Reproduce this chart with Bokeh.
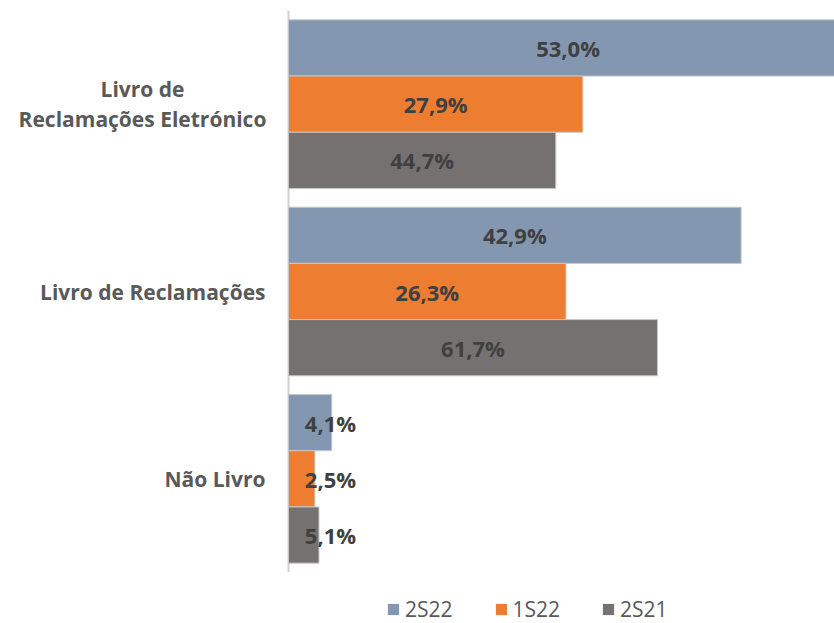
from bokeh.plotting import figure
from bokeh.layouts import column
from bokeh.models import Range1d, FactorRange, ColumnDataSource, Legend, LegendItem, Span
from bokeh.transform import dodge
from bokeh.core.properties import value
from bokeh.embed import file_html
from bokeh.resources import INLINE

categories = ["Livro de\nReclamações Eletrónico", "Livro de Reclamações", "Não Livro"]
series_names = ["2S22", "1S22", "2S21"]
values_2S22 = [53.0, 42.9, 4.1]
values_1S22 = [27.9, 26.3, 2.5]
values_2S21 = [44.7, 61.7, 5.1]
colors = ["#8497B0", "#ED7D31", "#767171"]

W = 834
AXIS_PX = 288                 # screen position of the value axis (x = 0)
PRIMARY_END = 51.75           # primary scale (2S22, 1S22)
SECONDARY_END = 91.3          # secondary scale (2S21)
ppu1 = (W - AXIS_PX) / PRIMARY_END
ppu2 = (W - AXIS_PX) / SECONDARY_END

p = figure(width=W, height=572, output_backend="svg", toolbar_location=None,
           y_range=FactorRange(*categories[::-1]),
           x_range=Range1d(-AXIS_PX / ppu1, PRIMARY_END),
           x_axis_location=None, y_axis_location=None,
           min_border_left=0, min_border_right=0,
           min_border_top=10, min_border_bottom=0)
p.extra_x_ranges = {"sec": Range1d(-AXIS_PX / ppu2, SECONDARY_END)}
p.outline_line_color = None
p.xgrid.visible = False
p.ygrid.visible = False
p.y_range.range_padding = 0

# value axis line
p.add_layout(Span(location=0, dimension="height", line_color="#D0D0D0",
                  line_width=2, level="underlay"))

series = [values_2S22, values_1S22, values_2S21]
offsets = [0.3, 0.0, -0.3]
ranges = ["default", "default", "sec"]
ppus = [ppu1, ppu1, ppu2]
for vals, off, col, rn, ppu in zip(series, offsets, colors, ranges, ppus):
    lbl_x = [max(v / 2, 42 / ppu) for v in vals]
    src = ColumnDataSource(dict(cat=categories, v=vals, lx=lbl_x,
                                txt=[f"{v:.1f}".replace(".", ",") + "%" for v in vals]))
    p.hbar(y=dodge("cat", off, range=p.y_range), right="v", left=0, height=0.3,
           source=src, fill_color=col, line_color="#C8C8C8", line_width=1,
           x_range_name=rn)
    p.text(x="lx", y=dodge("cat", off, range=p.y_range), text="txt", source=src,
           x_range_name=rn, text_align="center", text_baseline="middle",
           text_font=value("Open Sans"), text_font_style="bold",
           text_font_size="22px", text_color="#404040")

# category labels (right-aligned block; wrapped label lines centred)
cat_style = dict(text_baseline="middle", text_font=value("Open Sans"),
                 text_font_style="bold", text_font_size="21px",
                 text_color="#595959", text_line_height=1.05)
p.text(x=[(142 - AXIS_PX) / ppu1], y=[categories[0]], text=[categories[0]],
       text_align="center", **cat_style)
p.text(x=[(265 - AXIS_PX) / ppu1] * 2, y=categories[1:], text=categories[1:],
       text_align="right", **cat_style)

# legend strip below the chart
lf = figure(width=W, height=51, output_backend="svg", toolbar_location=None,
            x_range=Range1d(0, 1), y_range=Range1d(0, 1),
            x_axis_location=None, y_axis_location=None,
            min_border_left=0, min_border_right=0, min_border_top=0, min_border_bottom=0)
lf.outline_line_color = None
lf.xgrid.visible = False
lf.ygrid.visible = False
items = []
for n, col in zip(series_names, colors):
    r = lf.hbar(y=[0], right=[0], left=[0], height=0.01, fill_color=col, line_color=None)
    items.append(LegendItem(label=n, renderers=[r]))
legend = Legend(items=items, orientation="horizontal", location=(386, 0),
                border_line_color=None, background_fill_alpha=0,
                padding=0, margin=0, spacing=41, label_standoff=5,
                glyph_width=14, glyph_height=14,
                label_text_font="Open Sans", label_text_font_size="21px",
                label_text_color="#595959")
lf.add_layout(legend, "center")

open("out.html", "w").write(file_html(column(p, lf, spacing=0), INLINE))
